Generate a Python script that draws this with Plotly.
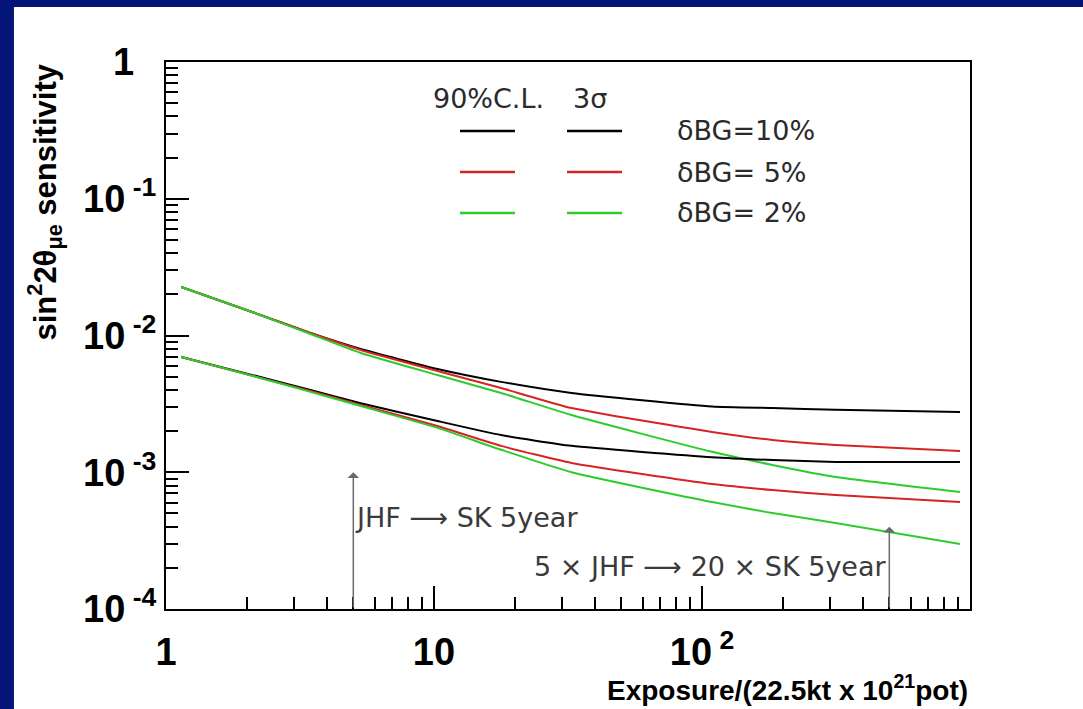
import numpy as np
import plotly.graph_objects as go

# ---------------- data ----------------
exposure = [1.14, 2.25, 3.46, 5.33, 10.3, 17.8, 32.6, 109, 183, 315, 918]

sig3_bg10 = [0.02265, 0.01413, 0.01042, 0.00796, 0.00569, 0.00458, 0.0038, 0.00303, 0.00295, 0.00286, 0.00276]
sig3_bg5 = [0.02265, 0.01413, 0.01042, 0.00783, 0.0055, 0.00413, 0.00295, 0.00197, 0.00172, 0.00158, 0.00143]
sig3_bg2 = [0.02265, 0.01413, 0.01026, 0.00745, 0.00514, 0.0038, 0.00262, 0.00141, 0.00113, 0.000923, 0.000717]

cl90_bg10 = [0.00697, 0.00497, 0.00399, 0.00320, 0.00237, 0.00187, 0.00156, 0.00129, 0.00123, 0.00119, 0.00119]
cl90_bg5 = [0.00697, 0.00489, 0.00393, 0.00310, 0.00218, 0.00156, 0.00117, 0.00082, 0.000741, 0.000682, 0.000605]
cl90_bg2 = [0.00697, 0.00489, 0.00387, 0.00305, 0.00211, 0.00146, 0.001, 0.000605, 0.000504, 0.000426, 0.000299]

bg_labels = ["δBG=10%", "δBG= 5%", "δBG= 2%"]

x_tickvals = [1, 10, 100]
x_ticktext = ["1", "10", "10<sup>\u00a02</sup>"]
x_minor = [2, 3, 4, 5, 6, 7, 8, 9, 20, 30, 40, 50, 60, 70, 80, 90,
           200, 300, 400, 500, 600, 700, 800, 900]
y_tickvals = [1, 0.1, 0.01, 0.001, 0.0001]
y_ticktext = ["1<sup>\u00a0\u00a0\u00a0</sup>", "10<sup>\u00a0-1</sup>", "10<sup>\u00a0-2</sup>",
              "10<sup>\u00a0-3</sup>", "10<sup>\u00a0-4</sup>"]
y_minor = [2e-4, 3e-4, 4e-4, 5e-4, 6e-4, 7e-4, 8e-4, 9e-4,
           2e-3, 3e-3, 4e-3, 5e-3, 6e-3, 7e-3, 8e-3, 9e-3,
           2e-2, 3e-2, 4e-2, 5e-2, 6e-2, 7e-2, 8e-2, 9e-2,
           0.2, 0.3, 0.4, 0.5, 0.6, 0.7, 0.8, 0.9]

# arrows: (x position, top of arrow, bottom of arrow, label)
arrow_x = [5, 500]
arrow_top = [1.0e-3, 4.0e-4]
arrow_bottom = [1.0e-4, 1.0e-4]
arrow_text = ["JHF ⟶ SK 5year", "5 × JHF ⟶ 20 × SK 5year"]
arrow_text_y = [4.7e-4, 2.03e-4]

# ---------------- style ----------------
NAVY = "#041478"
BLACK = "#000000"
RED = "#d62424"
GREEN = "#2ccc2c"
colors = [BLACK, RED, GREEN]
TICKFONT = dict(family="Liberation Sans, Arial, sans-serif", size=38, color="black", weight="bold")
TXTFONT = "DejaVu Sans, sans-serif"

fig = go.Figure()

for ys, c in zip([sig3_bg10, sig3_bg5, sig3_bg2], colors):
    fig.add_trace(go.Scatter(x=exposure, y=ys, mode="lines",
                             line=dict(color=c, width=2, shape="spline", smoothing=0.5),
                             hoverinfo="skip"))
for ys, c in zip([cl90_bg10, cl90_bg5, cl90_bg2], colors):
    fig.add_trace(go.Scatter(x=exposure, y=ys, mode="lines",
                             line=dict(color=c, width=2, shape="spline", smoothing=0.5),
                             hoverinfo="skip"))

# white panel over navy paper (navy strip on top and left only)
fig.add_shape(type="rect", xref="paper", yref="paper",
              x0=-0.1891, x1=1.2, y0=-0.3, y1=1.1005,
              fillcolor="white", line=dict(width=0), layer="below")

# arrows
for xa, yt, yb in zip(arrow_x, arrow_top, arrow_bottom):
    fig.add_annotation(x=np.log10(xa), y=np.log10(yt), ax=np.log10(xa), ay=np.log10(yb),
                       xref="x", yref="y", axref="x", ayref="y", text="",
                       showarrow=True, arrowhead=1, arrowsize=1.3, arrowwidth=1.5,
                       arrowcolor="#6a6a6a")
fig.add_annotation(x=np.log10(arrow_x[0]), y=np.log10(arrow_text_y[0]), xref="x", yref="y",
                   text=arrow_text[0], showarrow=False, xanchor="left", yanchor="middle",
                   font=dict(family=TXTFONT, size=27, color="#3a3a3a"))
fig.add_annotation(x=np.log10(arrow_x[1]), y=np.log10(arrow_text_y[1]), xref="x", yref="y",
                   text=arrow_text[1], showarrow=False, xanchor="right", yanchor="middle",
                   font=dict(family=TXTFONT, size=27, color="#3a3a3a"))

# legend (custom, ROOT style)
fig.add_annotation(x=0.4005, y=0.9324, xref="paper", yref="paper", text="90%C.L.",
                   showarrow=False, xanchor="center", yanchor="middle",
                   font=dict(family=TXTFONT, size=27, color="#2a2a2a"))
fig.add_annotation(x=0.5274, y=0.9324, xref="paper", yref="paper", text="3σ",
                   showarrow=False, xanchor="center", yanchor="middle",
                   font=dict(family=TXTFONT, size=27, color="#2a2a2a"))
rows_y = [0.8739, 0.7989, 0.7240]
for ry, c, lab in zip(rows_y, colors, bg_labels):
    for xs0, xs1 in [(0.3657, 0.4340), (0.4988, 0.5672)]:
        fig.add_shape(type="line", xref="paper", yref="paper", x0=xs0, x1=xs1, y0=ry, y1=ry,
                      line=dict(color=c, width=2.5))
    fig.add_annotation(x=0.633, y=ry, xref="paper", yref="paper", text=lab, showarrow=False,
                       xanchor="left", yanchor="middle",
                       font=dict(family=TXTFONT, size=27, color="#2a2a2a"))

# axis titles
fig.add_annotation(x=1.0, y=-0.1810, xref="paper", yref="paper",
                   text="Exposure/(22.5kt x 10<sup>21</sup>pot)", showarrow=False,
                   xanchor="right", yanchor="bottom",
                   font=dict(family="Liberation Sans, Arial, sans-serif", size=28, color="black",
                             weight="bold"))
fig.add_annotation(x=-0.1505, y=0.745, xref="paper", yref="paper",
                   text="sin<sup>2</sup>2θ<sub>μe</sub> sensitivity", showarrow=False,
                   textangle=-90, xanchor="center", yanchor="middle",
                   font=dict(family="Liberation Sans, Arial, sans-serif", size=31, color="black",
                             weight="bold"))

fig.update_xaxes(type="log", range=[0, 3], showgrid=False, zeroline=False,
                 showline=True, linecolor="black", linewidth=2, mirror=True,
                 ticks="inside", ticklen=23, tickwidth=1.5, tickcolor="black",
                 tickvals=x_tickvals, ticktext=x_ticktext, tickfont=TICKFONT,
                 ticklabelstandoff=8,
                 minor=dict(ticks="inside", ticklen=12, tickwidth=1.5, tickcolor="black",
                            tickvals=x_minor, showgrid=False))
fig.update_yaxes(type="log", range=[-4, 0], showgrid=False, zeroline=False,
                 showline=True, linecolor="black", linewidth=2, mirror=True,
                 ticks="inside", ticklen=23, tickwidth=1.5, tickcolor="black",
                 tickvals=y_tickvals, ticktext=y_ticktext, tickfont=TICKFONT,
                 minor=dict(ticks="inside", ticklen=12, tickwidth=1.5, tickcolor="black",
                            tickvals=y_minor, showgrid=False))

fig.update_layout(width=1083, height=709, margin=dict(l=166, r=113, t=62, b=100),
                  paper_bgcolor=NAVY, plot_bgcolor="white", showlegend=False)

fig.write_html("out.html")
